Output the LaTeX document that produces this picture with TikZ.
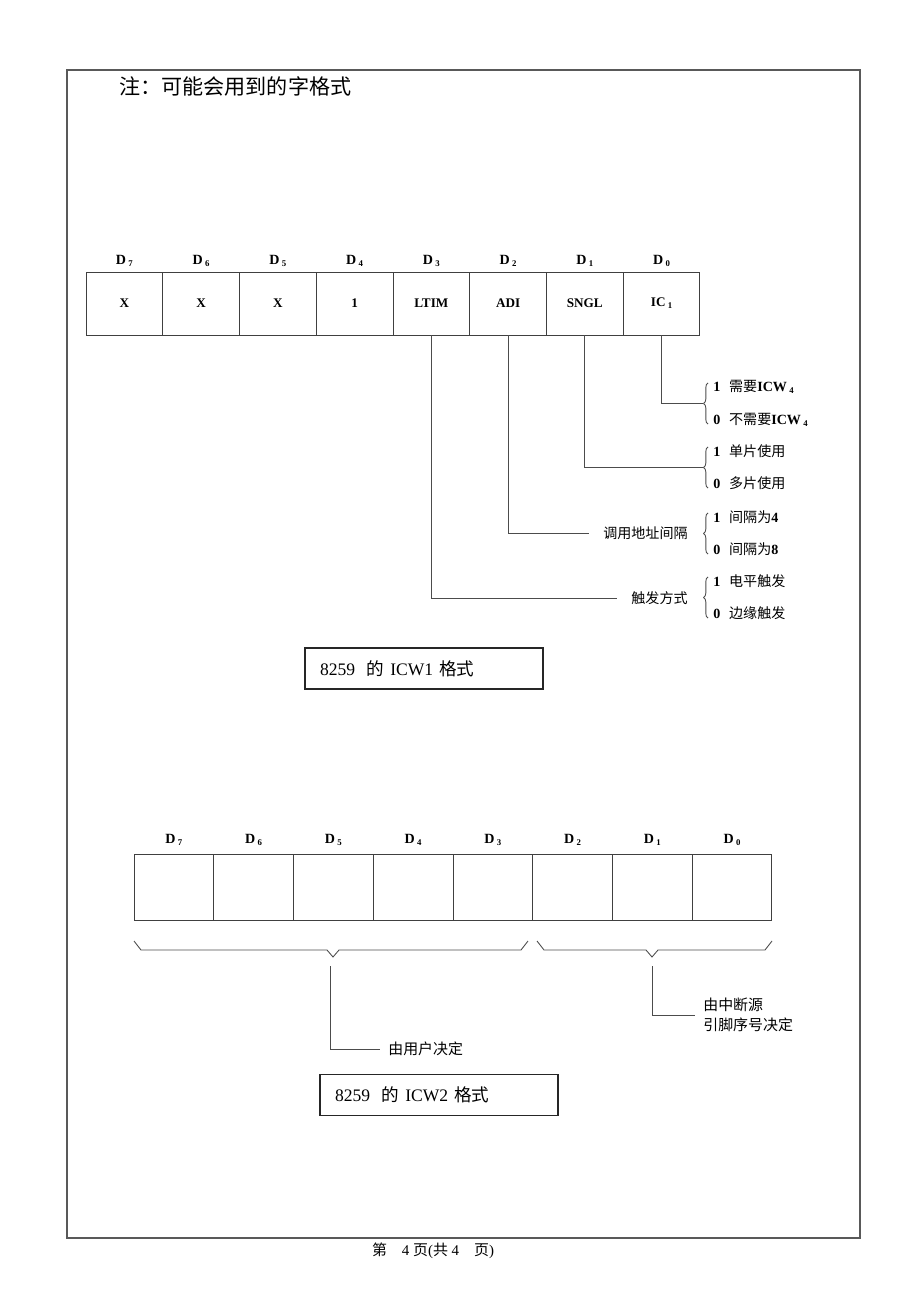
\documentclass[tikz,border=0pt]{standalone}
\usepackage{fontspec}
\setmainfont{Liberation Serif}
\newfontfamily\cjk{Noto Sans CJK SC}
\usetikzlibrary{decorations.pathreplacing}

\tikzstyle{bitcell} = [rectangle, minimum width=1.535cm, minimum height=1.26cm, inner sep=0pt, text centered, draw=black!75, line width=0.5pt, font=\fontsize{7.5}{9}\selectfont\bfseries]
\tikzstyle{emptycell} = [rectangle, minimum width=1.595cm, minimum height=1.32cm, inner sep=0pt, draw=black!75, line width=0.5pt]
\tikzstyle{bitname} = [inner sep=0pt, font=\fontsize{8}{9}\selectfont\bfseries]
\tikzstyle{caption} = [rectangle, draw=black!85, line width=0.7pt, minimum height=0.82cm, text width=4.16cm, inner xsep=0.3cm, align=left, font=\fontsize{10}{12}\selectfont]
\tikzstyle{meaning} = [inner xsep=0.28cm, inner ysep=0pt, font=\fontsize{8}{9}\selectfont\cjk]
\tikzstyle{choice} = [anchor=west, inner sep=0pt, font=\fontsize{8}{9}\selectfont]
\tikzstyle{note} = [anchor=west, inner xsep=0.16cm, inner ysep=0pt, align=left, font=\fontsize{8.5}{11.3}\selectfont\cjk]
\tikzstyle{link} = [draw=black!70, line width=0.5pt]
\tikzstyle{curly} = [decorate, decoration={brace, amplitude=2.5pt}, draw=black!70, line width=0.5pt]
\tikzstyle{frame} = [draw=black!65, line width=0.6pt]

\newcommand\idx[1]{\raisebox{-0.3ex}{\fontsize{5}{5}\selectfont #1}}
\newcommand\hz[1]{{\cjk\mdseries #1}}

\begin{document}
\begin{tikzpicture}[x=0.02cm, y=-0.02cm]
    \useasboundingbox (0,0) rectangle (920,1300);
    \draw [frame] (67,70) rectangle (860,1238);
    \node (title) [anchor=west, inner sep=0pt, font=\fontsize{12}{14}\selectfont\cjk] at (119,86) {注：可能会用到的字格式};

    % ICW1
    \begin{scope}[node distance=1.535cm]
        \node (w1b7) [bitcell] at (124.4,303.5) {X};
        \node (w1b6) [bitcell, right of=w1b7] {X};
        \node (w1b5) [bitcell, right of=w1b6] {X};
        \node (w1b4) [bitcell, right of=w1b5] {1};
        \node (w1b3) [bitcell, right of=w1b4] {LTIM};
        \node (w1b2) [bitcell, right of=w1b3] {ADI};
        \node (w1b1) [bitcell, right of=w1b2] {SNGL};
        \node (w1b0) [bitcell, right of=w1b1] {IC\,\idx{1}};
    \end{scope}
    \begin{scope}[node distance=0.85cm]
        \node (w1d7) [bitname, above of=w1b7] {D\,\idx{7}};
        \node (w1d6) [bitname, above of=w1b6] {D\,\idx{6}};
        \node (w1d5) [bitname, above of=w1b5] {D\,\idx{5}};
        \node (w1d4) [bitname, above of=w1b4] {D\,\idx{4}};
        \node (w1d3) [bitname, above of=w1b3] {D\,\idx{3}};
        \node (w1d2) [bitname, above of=w1b2] {D\,\idx{2}};
        \node (w1d1) [bitname, above of=w1b1] {D\,\idx{1}};
        \node (w1d0) [bitname, above of=w1b0] {D\,\idx{0}};
    \end{scope}

    % braces of the choices
    \draw [curly] (708,424) -- (708,383);
    \draw [curly] (708,488) -- (708,447);
    \draw [curly] (708,554) -- (708,513);
    \draw [curly] (708,618) -- (708,577);
    \coordinate (icwsel) at (703,403);
    \coordinate (sngsel) at (703,467);

    \node (ic1) [choice] at (713,387) {\textbf{1}\hspace{5pt}\hz{需要}\textbf{ICW\,\idx{4}}};
    \node (ic0) [choice] at (713,420) {\textbf{0}\hspace{5pt}\hz{不需要}\textbf{ICW\,\idx{4}}};
    \node (sg1) [choice] at (713,451) {\textbf{1}\hspace{5pt}\hz{单片使用}};
    \node (sg0) [choice] at (713,483) {\textbf{0}\hspace{5pt}\hz{多片使用}};
    \node (ad1) [choice] at (713,517) {\textbf{1}\hspace{5pt}\hz{间隔为}\textbf{4}};
    \node (ad0) [choice] at (713,549) {\textbf{0}\hspace{5pt}\hz{间隔为}\textbf{8}};
    \node (lt1) [choice] at (713,581) {\textbf{1}\hspace{5pt}\hz{电平触发}};
    \node (lt0) [choice] at (713,613) {\textbf{0}\hspace{5pt}\hz{边缘触发}};

    \node (adr) [meaning, anchor=east] at (702,533) {调用地址间隔};
    \node (trg) [meaning, anchor=east] at (702,598) {触发方式};

    \draw [link] (w1b0.south) |- (icwsel);
    \draw [link] (w1b1.south) |- (sngsel);
    \draw [link] (w1b2.south) |- (adr.west);
    \draw [link] (w1b3.south) |- (trg.west);

    \node (cap1) [caption] at (424,668.5) {8259\ \ \hz{的} ICW1 \hz{格式}};

    % ICW2
    \begin{scope}[node distance=1.595cm]
        \node (w2b7) [emptycell] at (173.9,887) {};
        \node (w2b6) [emptycell, right of=w2b7] {};
        \node (w2b5) [emptycell, right of=w2b6] {};
        \node (w2b4) [emptycell, right of=w2b5] {};
        \node (w2b3) [emptycell, right of=w2b4] {};
        \node (w2b2) [emptycell, right of=w2b3] {};
        \node (w2b1) [emptycell, right of=w2b2] {};
        \node (w2b0) [emptycell, right of=w2b1] {};
    \end{scope}
    \begin{scope}[node distance=0.94cm]
        \node (w2d7) [bitname, above of=w2b7] {D\,\idx{7}};
        \node (w2d6) [bitname, above of=w2b6] {D\,\idx{6}};
        \node (w2d5) [bitname, above of=w2b5] {D\,\idx{5}};
        \node (w2d4) [bitname, above of=w2b4] {D\,\idx{4}};
        \node (w2d3) [bitname, above of=w2b3] {D\,\idx{3}};
        \node (w2d2) [bitname, above of=w2b2] {D\,\idx{2}};
        \node (w2d1) [bitname, above of=w2b1] {D\,\idx{1}};
        \node (w2d0) [bitname, above of=w2b0] {D\,\idx{0}};
    \end{scope}

    % flat brackets under the bits
    \draw [link] (134,941) -- (141,950) -- (327,950) -- (333,957) -- (339,950) -- (521,950) -- (528,941);
    \draw [link] (537,941) -- (544,950) -- (646,950) -- (652,957) -- (658,950) -- (765,950) -- (772,941);
    \coordinate (usrtip) at (330,966);
    \coordinate (srctip) at (652,966);

    \node (usr) [note] at (380,1049) {由用户决定};
    \node (src) [note] at (695,1015) {由中断源\\引脚序号决定};

    \draw [link] (usrtip) |- (usr.west);
    \draw [link] (srctip) |- (src.west);

    \node (cap2) [caption] at (439,1095) {8259\ \ \hz{的} ICW2 \hz{格式}};

    \node (page) [inner sep=0pt, font=\fontsize{8.5}{10}\selectfont] at (433,1251) {\hz{第}\quad 4\ \hz{页}(\hz{共}\ 4\quad\hz{页})};
\end{tikzpicture}
\end{document}
